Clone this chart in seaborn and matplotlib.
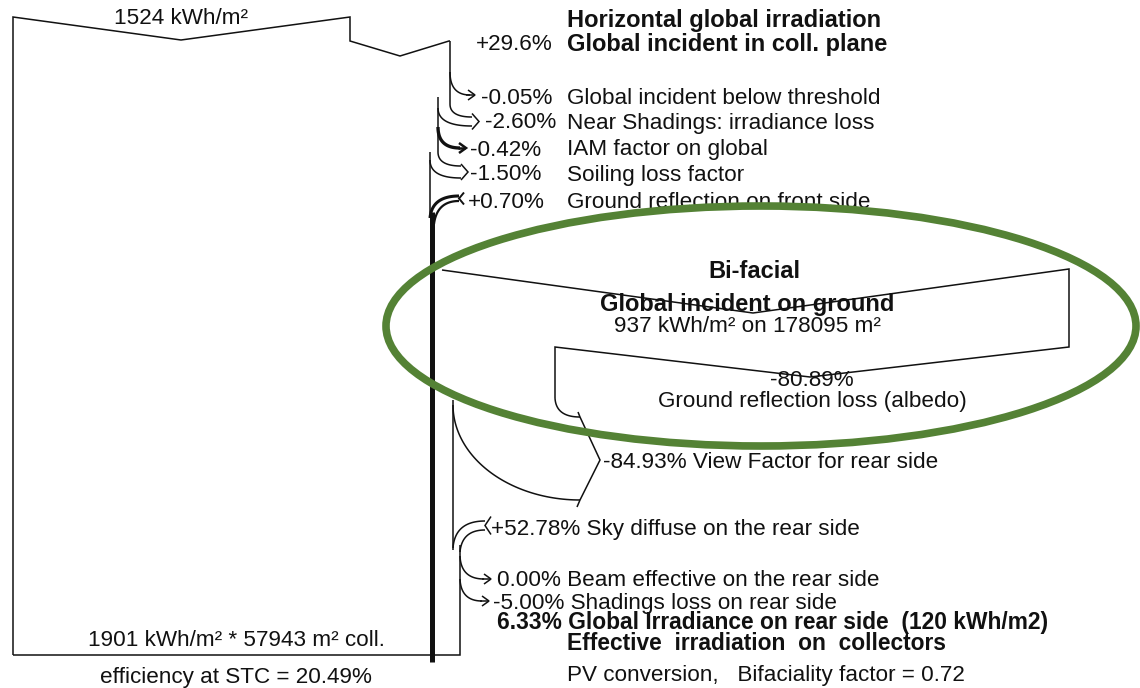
import numpy as np
import matplotlib
matplotlib.use("Agg")
import matplotlib.pyplot as plt
from matplotlib.patches import Ellipse
import seaborn as sns

# ---- values of the irradiance loss diagram ----
horizontal_irr = 1524          # kWh/m2
transposition_gain = 29.6      # %
front_pct = [-0.05, -2.60, -0.42, -1.50, 0.70]
front_labels = ["Global incident below threshold",
                "Near Shadings: irradiance loss",
                "IAM factor on global",
                "Soiling loss factor",
                "Ground reflection on front side"]
ground_irr = 937               # kWh/m2
ground_area = 178095           # m2
albedo_loss = -80.89
view_factor_loss = -84.93
rear_pct = [52.78, 0.00, -5.00]
rear_labels = ["Sky diffuse on the rear side",
               "Beam effective on the rear side",
               "Shadings loss on rear side"]
rear_gain = 6.33
rear_irr = 120
effective_irr = 1901
collector_area = 57943
stc_efficiency = 20.49
bifaciality = 0.72

sns.set_theme(style="white")
plt.rcParams["font.family"] = ["Liberation Sans", "DejaVu Sans"]

fig = plt.figure(figsize=(11.4, 6.88), dpi=100)
ax = fig.add_axes([0, 0, 1, 1])
ax.set_xlim(0, 1140)
ax.set_ylim(688, 0)
ax.axis("off")

INK = "#111111"
THIN = 1.1
FS = 16.2
FS_BOLD = 17.0


def pct(v, nd=2):
    if v == 0:
        return f"{v:.{nd}f}%"
    return f"{v:+.{nd}f}%"


def line(xs, ys, lw=THIN, **kw):
    ax.plot(xs, ys, color=INK, lw=lw, solid_capstyle="butt",
            solid_joinstyle="miter", **kw)


def qcurve(p0, p1, p2, lw=THIN):
    t = np.linspace(0, 1, 40)[:, None]
    p0, p1, p2 = map(np.asarray, (p0, p1, p2))
    pts = (1 - t) ** 2 * p0 + 2 * (1 - t) * t * p1 + t ** 2 * p2
    line(pts[:, 0], pts[:, 1], lw=lw)


def head(x, y, h=5, w=6, lw=THIN):
    # open arrow head pointing right, tip at (x, y)
    line([x - w, x, x - w], [y - h, y, y + h], lw=lw)


def tail(x, y, h=5, w=6, lw=THIN):
    # open notch pointing left, tip at (x, y)
    line([x + w, x, x + w], [y - h, y, y + h], lw=lw)


# ---- main irradiance band ----
line([13, 13, 181, 350, 350, 400, 449, 450],
     [655, 17, 40, 17, 41, 56, 41, 41])
line([450, 450], [41, 104])

# front side losses
qcurve((450, 72), (450, 95), (470, 95))
line([466, 474], [95, 95])
head(475, 95, 5, 7)
qcurve((450, 104), (450, 117), (472, 117))
line([438, 438], [97, 152])
qcurve((438, 108), (438, 126), (472, 126))
head(479, 121.5, 8, 7)
qcurve((438, 127), (438, 148), (460, 148), lw=2.4)
line([458, 465], [148, 148], lw=1.8)
head(466, 148, 5, 7, lw=1.8)
qcurve((438, 152), (438, 166), (461, 166))
line([430, 430], [152, 218])
qcurve((430, 160), (430, 178), (461, 178))
head(468, 172, 8, 7)
qcurve((430, 218), (432, 196), (459, 196), lw=2.2)
qcurve((434, 224), (437, 201), (459, 201), lw=1.6)
tail(459, 198.5, 6, 5, lw=1.4)
line([432, 432], [212, 662], lw=3.6)

# ---- bi-facial part ----
line([442, 753, 1069, 1069, 810, 555, 555],
     [270, 313, 269, 347, 377, 347, 398])
qcurve((555, 398), (556, 417), (580, 417))
line([578, 580, 600, 580, 577], [412, 417, 460, 500, 507])
t = np.linspace(0, np.pi / 2, 60)
line(580 - 127 * np.cos(t), 405 + 95 * np.sin(t))
line([453, 453], [400, 550])
qcurve((453, 548), (455, 521), (485, 521))
qcurve((460, 552), (462, 530), (485, 530))
tail(485, 525.5, 9, 6)
line([460, 460, 13], [545, 655, 655])
qcurve((460, 556), (461, 579), (484, 579))
line([482, 490], [579, 579])
head(491, 579, 5, 7)
qcurve((460, 579), (461, 601), (482, 601))
line([480, 488], [601, 601])
head(489, 601, 5, 7)

# ---- texts ----
def txt(x, y, s, ha="left", bold=False, size=None):
    if size is None:
        size = FS_BOLD if bold else FS
    ax.text(x, y + 2, s, ha=ha, va="center", fontsize=size, color=INK,
            fontweight="bold" if bold else "normal", zorder=3)


txt(181, 17, f"{horizontal_irr} kWh/m²", ha="center")
txt(567, 19, "Horizontal global irradiation", bold=True)
txt(553, 42, pct(transposition_gain, 1), ha="right")
txt(567, 42, "Global incident in coll. plane", bold=True)

pct_x = [481, 485, 470, 470, 468]
rows_y = [97, 121, 148, 173, 201]
for v, lab, x, y in zip(front_pct, front_labels, pct_x, rows_y):
    txt(x, y, pct(v))
    txt(567, y, lab)

txt(754, 270, "Bi-facial", ha="center", bold=True)
txt(747, 302, "Global incident on ground", ha="center", bold=True)
txt(747, 324, f"{ground_irr} kWh/m² on {ground_area} m²", ha="center")
txt(812, 379, pct(albedo_loss), ha="center")
txt(812, 399, "Ground reflection loss (albedo)", ha="center")
txt(603, 461, f"{pct(view_factor_loss)} View Factor for rear side")

for v, lab, x, y in zip(rear_pct, rear_labels, [491, 497, 493], [528, 579, 601]):
    txt(x, y, f"{pct(v)} {lab}")

txt(497, 620, f"{rear_gain:.2f}% Global Irradiance on rear side  ({rear_irr} kWh/m2)",
    bold=True, size=16.4)
txt(567, 642, "Effective  irradiation  on  collectors", bold=True, size=16.4)
txt(567, 674, f"PV conversion,   Bifaciality factor = {bifaciality:.2f}")
txt(236, 639, f"{effective_irr} kWh/m² * {collector_area} m² coll.", ha="center")
txt(236, 675, f"efficiency at STC = {stc_efficiency:.2f}%", ha="center")

# highlight around the bi-facial block
ax.add_patch(Ellipse((761, 326), 750, 240, fill=False, ec="#548235",
                     lw=5.5, zorder=5))

fig.savefig("out.png", dpi=100)
